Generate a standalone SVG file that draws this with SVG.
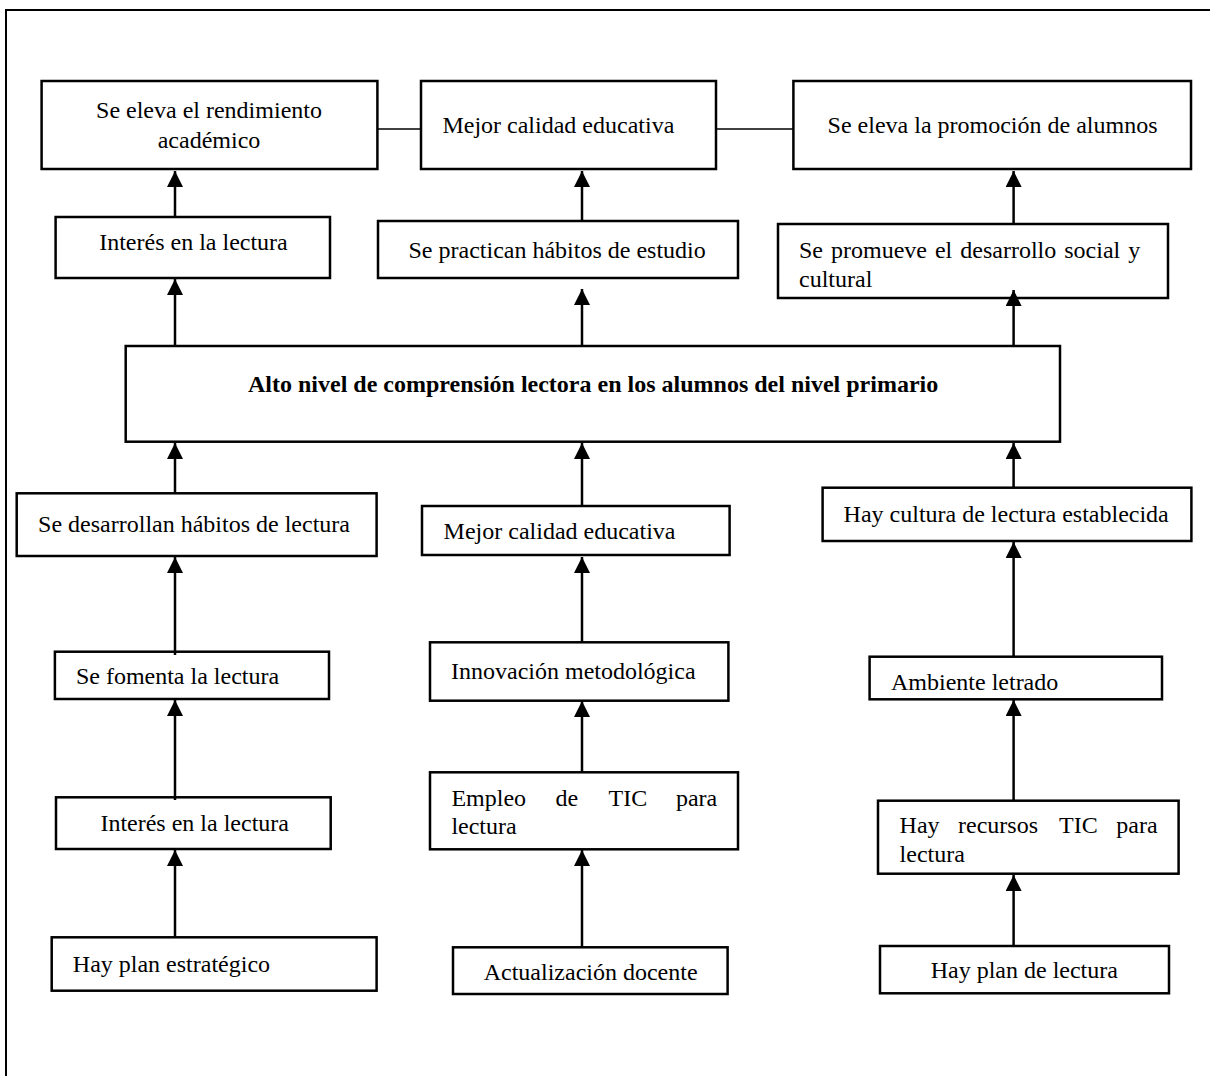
<svg xmlns="http://www.w3.org/2000/svg" width="1210" height="1076" viewBox="0 0 1210 1076">
<style>
.box{fill:#fff;stroke:#000;stroke-width:2.5}
.t{font-family:"Liberation Serif","Times New Roman",serif;font-size:24px;fill:#000}
.b{font-weight:bold}
.m{text-anchor:middle}
.arr{stroke:#000;stroke-width:2.5;fill:none;marker-end:url(#ah)}
.thin{stroke:#000;stroke-width:1.3;fill:none}
.frame{stroke:#000;stroke-width:2;fill:none}
</style>
<defs>
<marker id="ah" markerUnits="userSpaceOnUse" markerWidth="16" markerHeight="16" viewBox="0 0 15 15" refX="15" refY="7.5" orient="auto">
<path d="M0,0 L15,7.5 L0,15 z" fill="#000"/>
</marker>
</defs>
<rect width="1210" height="1076" fill="#fff"/>
<path class="frame" d="M1210,10 L6,10 L6,1076"/>

<g id="n_rendimiento">
<rect class="box" x="41.6" y="81" width="335.8" height="88"/>
<text class="t m" x="209" y="118">Se eleva el rendimiento</text>
<text class="t m" x="209" y="148">académico</text>
</g>
<g id="n_calidad_top">
<rect class="box" x="421" y="81" width="295" height="88"/>
<text class="t" x="442.4" y="133">Mejor calidad educativa</text>
</g>
<g id="n_promocion">
<rect class="box" x="793.4" y="81" width="397.6" height="88"/>
<text class="t" x="827.6" y="133">Se eleva la promoción de alumnos</text>
</g>
<g id="n_interes_top">
<rect class="box" x="55.6" y="217" width="274.4" height="61"/>
<text class="t" x="99.2" y="250">Interés en la lectura</text>
</g>
<g id="n_habitos_estudio">
<rect class="box" x="378" y="221" width="360" height="57"/>
<text class="t" x="408.5" y="258">Se practican hábitos de estudio</text>
</g>
<g id="n_desarrollo_social">
<rect class="box" x="778" y="224" width="390" height="74"/>
<text class="t" x="799" y="258" word-spacing="2">Se promueve el desarrollo social y</text>
<text class="t" x="799" y="287">cultural</text>
</g>
<g id="n_central">
<rect class="box" x="125.7" y="346" width="934.3" height="95.7"/>
<text class="t b" x="248" y="392">Alto nivel de comprensión lectora en los alumnos del nivel primario</text>
</g>
<g id="n_habitos_lectura">
<rect class="box" x="16.7" y="493.3" width="359.9" height="62.7"/>
<text class="t" x="38.1" y="532">Se desarrollan hábitos de lectura</text>
</g>
<g id="n_calidad_mid">
<rect class="box" x="422" y="506" width="307.6" height="49"/>
<text class="t" x="443.6" y="539">Mejor calidad educativa</text>
</g>
<g id="n_cultura">
<rect class="box" x="822.6" y="487.7" width="368.8" height="53.3"/>
<text class="t" x="843.6" y="522">Hay cultura de lectura establecida</text>
</g>
<g id="n_fomenta">
<rect class="box" x="54.9" y="651.7" width="274.1" height="47.3"/>
<text class="t" x="75.9" y="684">Se fomenta la lectura</text>
</g>
<g id="n_innovacion">
<rect class="box" x="430" y="642.3" width="298.4" height="58.4"/>
<text class="t" x="451" y="679">Innovación metodológica</text>
</g>
<g id="n_ambiente">
<rect class="box" x="869.6" y="656.7" width="292.4" height="42.6"/>
<text class="t" x="891" y="690">Ambiente letrado</text>
</g>
<g id="n_interes_bottom">
<rect class="box" x="56" y="797.3" width="274.7" height="51.7"/>
<text class="t" x="100.4" y="830.5">Interés en la lectura</text>
</g>
<g id="n_tic_empleo">
<rect class="box" x="430" y="772.3" width="308" height="77"/>
<text class="t" y="806"><tspan x="451.4">Empleo</tspan><tspan x="555.6">de</tspan><tspan x="608.6">TIC</tspan><tspan x="675.9">para</tspan></text>
<text class="t" x="451.4" y="834">lectura</text>
</g>
<g id="n_tic_recursos">
<rect class="box" x="878" y="800.7" width="300.6" height="73"/>
<text class="t" y="833"><tspan x="899.6">Hay</tspan><tspan x="958">recursos</tspan><tspan x="1059">TIC</tspan><tspan x="1116.3">para</tspan></text>
<text class="t" x="899.6" y="862">lectura</text>
</g>
<g id="n_plan_estrategico">
<rect class="box" x="51.7" y="937.3" width="324.9" height="53.4"/>
<text class="t" x="72.8" y="972">Hay plan estratégico</text>
</g>
<g id="n_actualizacion">
<rect class="box" x="453" y="947.3" width="274.6" height="46.7"/>
<text class="t" x="483.7" y="980">Actualización docente</text>
</g>
<g id="n_plan_lectura">
<rect class="box" x="880" y="946" width="289" height="47.3"/>
<text class="t" x="930.7" y="978">Hay plan de lectura</text>
</g>

<g id="connectors">
<line class="thin" x1="377" y1="129" x2="421" y2="129"/>
<line class="thin" x1="716" y1="129" x2="793" y2="129"/>
<line class="arr" x1="175" y1="217" x2="175" y2="171"/>
<line class="arr" x1="582" y1="221" x2="582" y2="171"/>
<line class="arr" x1="1013.6" y1="224" x2="1013.6" y2="171"/>
<line class="arr" x1="175" y1="346" x2="175" y2="279"/>
<line class="arr" x1="582" y1="346" x2="582" y2="289"/>
<line class="arr" x1="1013.6" y1="346" x2="1013.6" y2="290"/>
<line class="arr" x1="175" y1="493" x2="175" y2="443"/>
<line class="arr" x1="582" y1="506" x2="582" y2="443"/>
<line class="arr" x1="1013.6" y1="488" x2="1013.6" y2="443"/>
<line class="arr" x1="175" y1="655" x2="175" y2="557"/>
<line class="arr" x1="582" y1="642" x2="582" y2="557"/>
<line class="arr" x1="1013.6" y1="657" x2="1013.6" y2="542"/>
<line class="arr" x1="175" y1="800" x2="175" y2="700"/>
<line class="arr" x1="582" y1="772" x2="582" y2="701"/>
<line class="arr" x1="1013.6" y1="801" x2="1013.6" y2="700"/>
<line class="arr" x1="175" y1="937" x2="175" y2="850"/>
<line class="arr" x1="582" y1="947" x2="582" y2="850"/>
<line class="arr" x1="1013.6" y1="946" x2="1013.6" y2="875"/>
</g>
</svg>
